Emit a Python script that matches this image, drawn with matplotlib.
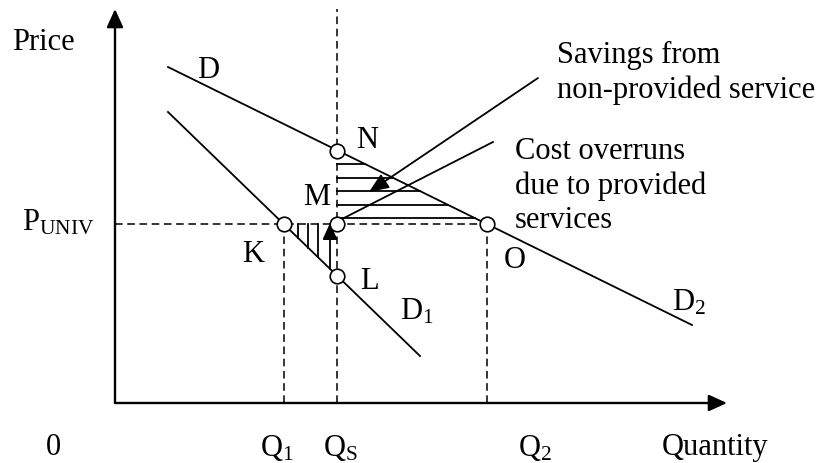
import numpy as np
import matplotlib
matplotlib.use("Agg")
import matplotlib.pyplot as plt
from matplotlib.patches import FancyArrowPatch

plt.rcParams['font.family'] = ['Liberation Serif', 'DejaVu Serif']
plt.rcParams['mathtext.fontset'] = 'custom'
plt.rcParams['mathtext.rm'] = 'Liberation Serif'
plt.rcParams['mathtext.it'] = 'Liberation Serif:italic'

# quantities and price level (origin at the axes corner)
q1, qs, q2 = 169, 222, 372
p_univ = 179

# demand curves: (x, y) end points
d_x = [53, 577]
d_y = [336, 78]
d1_x = [53, 305]
d1_y = [291, 47]

# marked points
pt_names = ["N", "M", "K", "L", "O"]
pt_x = [qs, qs, q1, qs, q2]
pt_y = [252, p_univ, p_univ, 127, p_univ]

# hatch lines of the two areas
hatch_h_y = [239, 225, 212, 198, 185]
hatch_v_x = [183, 193, 203]

fig = plt.figure(figsize=(8.31, 4.64), dpi=100)
ax = fig.add_axes([0, 0, 1, 1])
ax.set_xlim(-115, 716)
ax.set_ylim(-60, 404)
ax.axis('off')

fs = 22
lw = 1.3

# axes with arrows
for end in [(0, 394), (612, 0)]:
    ax.add_patch(FancyArrowPatch((0, 0), end, arrowstyle='-|>,head_length=11,head_width=5',
                                 mutation_scale=1, lw=1.7, color='black',
                                 shrinkA=0, shrinkB=0))

# dashed guides
dash = dict(color='black', lw=1.1, dashes=(5, 3))
ax.plot([qs, qs], [0, 394], **dash)
ax.plot([q1, q1], [0, p_univ], **dash)
ax.plot([q2, q2], [0, p_univ], **dash)
ax.plot([0, q2], [p_univ, p_univ], **dash)

# demand curves
ax.plot(d_x, d_y, color='black', lw=lw)
ax.plot(d1_x, d1_y, color='black', lw=lw)

# horizontal hatching between N and D
for y in hatch_h_y:
    x_end = np.interp(y, d_y[::-1], d_x[::-1])
    ax.plot([qs, x_end], [y, y], color='black', lw=lw)

# vertical hatching between K and L
for x in hatch_v_x:
    y_end = np.interp(x, d1_x, d1_y)
    ax.plot([x, x], [p_univ, y_end], color='black', lw=lw)

# arrow up to M
arr_x = 215
ax.add_patch(FancyArrowPatch((arr_x, np.interp(arr_x, d1_x, d1_y)), (arr_x, p_univ + 1),
                             arrowstyle='-|>,head_length=10,head_width=4.5',
                             mutation_scale=1, lw=lw, color='black',
                             shrinkA=0, shrinkB=0))

# leader lines
ax.add_patch(FancyArrowPatch((423, 325), (254, 211),
                             arrowstyle='-|>,head_length=12,head_width=5',
                             mutation_scale=1, lw=lw, color='black',
                             shrinkA=0, shrinkB=0))
ax.plot([378, 227], [261, 184], color='black', lw=lw)

# circles
ax.scatter(pt_x, pt_y, s=110, facecolor='white', edgecolor='black', linewidth=1.2, zorder=5)

# labels
ax.text(-72, 362, "Price", fontsize=fs, ha='center', va='center')
ax.text(93, 334, "D", fontsize=fs, ha='center', va='center')
ax.text(252, 264, "N", fontsize=fs, ha='center', va='center')
ax.text(202, 206, "M", fontsize=fs, ha='center', va='center')
ax.text(138, 149, "K", fontsize=fs, ha='center', va='center')
ax.text(254, 122, "L", fontsize=fs, ha='center', va='center')
ax.text(400, 144, "O", fontsize=fs, ha='center', va='center')
ax.text(285, 92, r"D$_\mathrm{1}$", fontsize=fs, ha='left', va='center')
ax.text(557, 101, r"D$_\mathrm{2}$", fontsize=fs, ha='left', va='center')
ax.text(-93, 181, r"P$_\mathrm{UNIV}$", fontsize=fs, ha='left', va='center')

ax.text(-62, -44, "0", fontsize=fs, ha='center', va='center')
ax.text(145, -44, r"Q$_\mathrm{1}$", fontsize=fs, ha='left', va='center')
ax.text(208, -44, r"Q$_\mathrm{S}$", fontsize=fs, ha='left', va='center')
ax.text(403, -44, r"Q$_\mathrm{2}$", fontsize=fs, ha='left', va='center')
ax.text(600, -44, "Quantity", fontsize=fs, ha='center', va='center')

ax.text(442, 331, "Savings from\nnon-provided service", fontsize=fs,
        ha='left', va='center', linespacing=1.25)
ax.text(400, 218, "Cost overruns\ndue to provided\nservices", fontsize=fs,
        ha='left', va='center', linespacing=1.25)

plt.savefig('out.png', dpi=100)
